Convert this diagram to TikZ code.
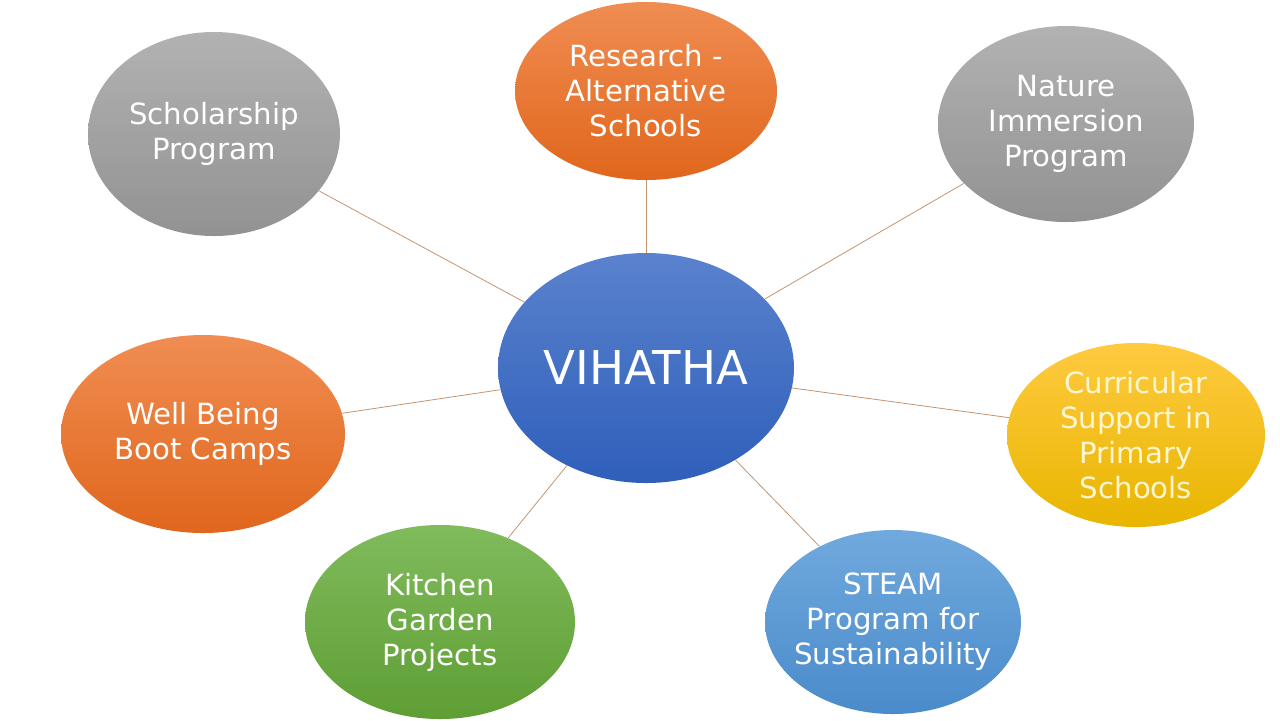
\documentclass[tikz,border=0pt]{standalone}
\usepackage{fontspec}
\setmainfont{DejaVu Sans}
\usetikzlibrary{shapes}

\definecolor{linkcol}{HTML}{C4936E}
\definecolor{orangetop}{HTML}{F08D52}
\definecolor{orangebot}{HTML}{E0661C}
\definecolor{graytop}{HTML}{B2B2B2}
\definecolor{graybot}{HTML}{929292}
\definecolor{bluetop}{HTML}{5A82CE}
\definecolor{bluebot}{HTML}{2F5FBA}
\definecolor{yellowtop}{HTML}{FFCA3F}
\definecolor{yellowbot}{HTML}{E8B500}
\definecolor{greentop}{HTML}{80BB5C}
\definecolor{greenbot}{HTML}{5E9E34}
\definecolor{skytop}{HTML}{70A9DD}
\definecolor{skybot}{HTML}{4A8BCB}
\definecolor{paleyellow}{HTML}{FFF6D2}

\begin{document}
\begin{tikzpicture}[
    x=0.5pt, y=-0.5pt,
    topic/.style={ellipse, inner xsep=-10pt, inner ysep=-8pt, align=center,
        text=white, font=\fontsize{14.6}{17.5}\selectfont},
    hub/.style={topic, minimum width=148pt, minimum height=115pt,
        top color=bluetop, bottom color=bluebot,
        font=\fontsize{23.3}{28}\selectfont},
    orangebox/.style={topic, top color=orangetop, bottom color=orangebot},
    graybox/.style={topic, top color=graytop, bottom color=graybot},
    link/.style={draw=linkcol, line width=0.4pt}
]
\useasboundingbox (0,0) rectangle (1280,720);

% Nodes
\node[hub] (vihatha) at (646,368) {VIHATHA};
\node[orangebox, minimum width=131pt, minimum height=89pt] (research) at (646,91)
    {Research -\\Alternative\\Schools};
\node[graybox, minimum width=126pt, minimum height=102pt] (scholarship) at (214,134)
    {Scholarship\\Program};
\node[graybox, minimum width=128pt, minimum height=98pt] (nature) at (1066,124)
    {Nature\\Immersion\\Program};
\node[topic, top color=yellowtop, bottom color=yellowbot, text=paleyellow,
    minimum width=129pt, minimum height=92pt] (curricular) at (1136,435)
    {Curricular\\Support in\\Primary\\Schools};
\node[topic, top color=skytop, bottom color=skybot,
    minimum width=128pt, minimum height=92pt] (steam) at (893,622)
    {STEAM\\Program for\\Sustainability};
\node[topic, top color=greentop, bottom color=greenbot,
    minimum width=135pt, minimum height=97pt] (kitchen) at (440,622)
    {Kitchen\\Garden\\Projects};
\node[orangebox, minimum width=142pt, minimum height=99pt] (wellbeing) at (203,434)
    {Well Being\\Boot Camps};

% Edges
\foreach \other in {research, scholarship, nature, curricular, steam, kitchen, wellbeing}
    \draw[link] (vihatha) -- (\other);

\end{tikzpicture}
\end{document}
